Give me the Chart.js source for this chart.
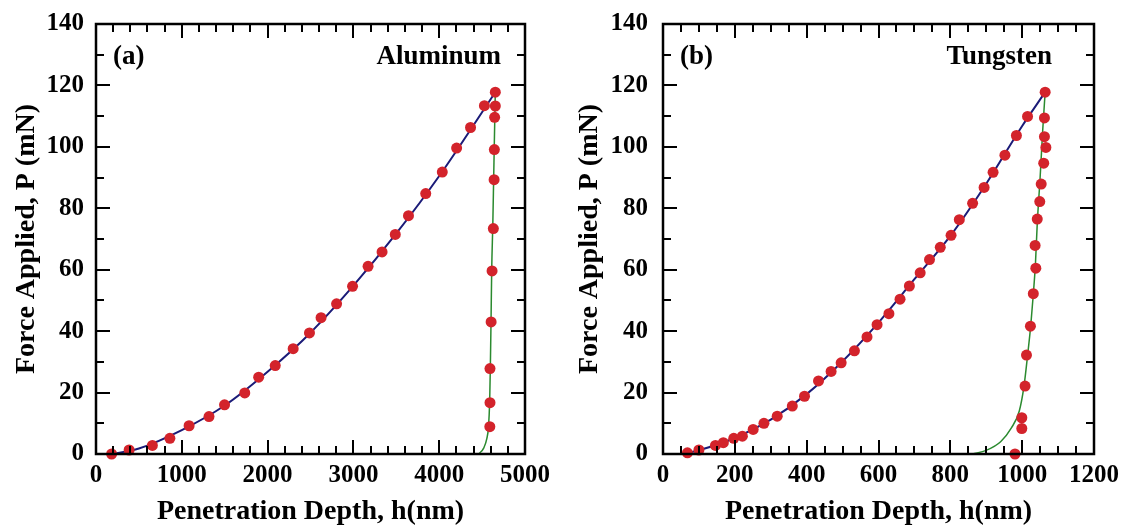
<!DOCTYPE html>
<html>
<head>
<meta charset="utf-8">
<script src="https://cdn.jsdelivr.net/npm/chart.js@4.4.1/dist/chart.umd.min.js"></script>
<style>
  body { margin: 0; background: #fff; width: 1129px; height: 531px; overflow: hidden; position: relative; }
  .pane { position: absolute; top: 0; height: 531px; }
  #paneA { left: 0; width: 560px; }
  #paneB { left: 560px; width: 569px; }
</style>
</head>
<body>
<div class="pane" id="paneA"><canvas id="chartA"></canvas></div>
<div class="pane" id="paneB"><canvas id="chartB"></canvas></div>
<script>
// Aluminum - measured points (loading / unloading)
const alLoadDepth = [182, 386, 657, 861, 1085, 1317, 1498, 1734, 1896, 2089, 2298, 2488, 2623, 2804, 2990, 3171, 3334, 3488, 3642, 3843, 4036, 4203, 4365, 4527, 4654];
const alLoadForce = [0, 1.3, 2.8, 5.1, 9.2, 12.2, 16, 19.9, 25, 28.8, 34.3, 39.4, 44.4, 48.9, 54.6, 61.1, 65.8, 71.5, 77.6, 84.8, 91.8, 99.6, 106.3, 113.4, 117.8];
const alUnloadDepth = [4654, 4646, 4643, 4640, 4631, 4616, 4605, 4592, 4592, 4590];
const alUnloadForce = [113.3, 109.6, 99.1, 89.3, 73.4, 59.6, 43, 27.8, 16.7, 8.9];
// Aluminum - fitted curves
const alFitLoadDepth = [182, 500, 1000, 1500, 2000, 2500, 3000, 3500, 4000, 4654];
const alFitLoadForce = [0, 1.8, 7.8, 15.8, 26.8, 39.5, 54.8, 71.8, 90.5, 117.8];
const alFitUnloadDepth = [4461, 4520, 4555, 4575, 4588, 4596, 4604, 4612, 4625, 4635, 4645, 4654];
const alFitUnloadForce = [0, 2, 5, 9, 17, 28, 43, 60, 75, 90, 105, 117.8];

// Tungsten - measured points
const wLoadDepth = [68, 100, 146, 168, 197, 221, 251, 281, 318, 360, 394, 433, 468, 496, 533, 568, 596, 629, 660, 686, 716, 742, 772, 802, 825, 862, 894, 919, 952, 984, 1015, 1064];
const wLoadForce = [0.4, 1.3, 2.8, 3.7, 5.1, 5.8, 8, 10, 12.3, 15.6, 18.8, 23.8, 26.9, 29.7, 33.6, 38.1, 42.1, 45.7, 50.4, 54.7, 59, 63.3, 67.3, 71.2, 76.3, 81.6, 86.8, 91.7, 97.3, 103.7, 109.9, 117.8];
const wUnloadDepth = [1062, 1062, 1066, 1060, 1053, 1049, 1042, 1036, 1038, 1031, 1023, 1012, 1008, 999, 999, 980];
const wUnloadForce = [109.4, 103.3, 99.8, 94.7, 87.9, 82.2, 76.5, 67.9, 60.5, 52.2, 41.6, 32.2, 22.1, 11.8, 8.3, 0];
// Tungsten - fitted curves
const wFitLoadDepth = [68, 100, 200, 300, 400, 500, 600, 700, 800, 900, 1000, 1064];
const wFitLoadForce = [0.3, 1.2, 5.2, 11.2, 19.5, 30.2, 42.8, 56.9, 71, 88, 106.8, 117.8];
const wFitUnloadDepth = [862, 900, 940, 970, 992, 1005, 1015, 1024, 1031, 1037, 1042, 1050, 1057, 1064];
const wFitUnloadForce = [0, 1.2, 4, 8.5, 14, 22, 32, 42, 52, 62, 75, 90, 105, 117.8];

// axes
const forceMax = 140, forceStep = 20, forceMinor = 10;
const alDepthMax = 5000, alDepthStep = 1000, alDepthMinor = 200;
const wDepthMax = 1200, wDepthStep = 200, wDepthMinor = 50;

const FONT = "'Liberation Serif', 'Times New Roman', serif";
const RED = '#d3232b', NAVY = '#1b1b78', GREEN = '#2b8a2f';

const zip = (xs, ys) => xs.map((x, i) => ({ x: x, y: ys[i] }));

// box + inward ticks on all four sides, plus the in-plot labels
function framePlugin(cfg) {
    return {
        id: 'frame',
        afterDatasetsDraw(chart) {
            const ctx = chart.ctx, a = chart.chartArea;
            const xs = chart.scales.x, ys = chart.scales.y;
            ctx.save();
            ctx.strokeStyle = '#000';
            ctx.lineWidth = 2;
            const hTicks = (step, len) => {
                for (let v = 0; v <= cfg.xMax + 1e-6; v += step) {
                    const p = Math.round(xs.getPixelForValue(v));
                    ctx.beginPath();
                    ctx.moveTo(p, a.bottom); ctx.lineTo(p, a.bottom - len);
                    ctx.moveTo(p, a.top); ctx.lineTo(p, a.top + len);
                    ctx.stroke();
                }
            };
            const vTicks = (step, len) => {
                for (let v = 0; v <= forceMax + 1e-6; v += step) {
                    const p = Math.round(ys.getPixelForValue(v));
                    ctx.beginPath();
                    ctx.moveTo(a.left, p); ctx.lineTo(a.left + len, p);
                    ctx.moveTo(a.right, p); ctx.lineTo(a.right - len, p);
                    ctx.stroke();
                }
            };
            hTicks(cfg.xMinor, 8);
            hTicks(cfg.xStep, 14);
            vTicks(forceMinor, 8);
            vTicks(forceStep, 14);
            ctx.lineWidth = 2.5;
            ctx.strokeRect(a.left, a.top, a.right - a.left, a.bottom - a.top);

            ctx.fillStyle = '#000';
            ctx.font = 'bold 27px ' + FONT;
            ctx.textBaseline = 'middle';
            ctx.textAlign = 'left';
            ctx.fillText(cfg.tag, a.left + 17, a.top + 33);
            ctx.textAlign = 'right';
            ctx.fillText(cfg.name, a.right - cfg.nameGap, a.top + 33);
            ctx.restore();
        }
    };
}

function makeChart(id, cfg) {
    return new Chart(document.getElementById(id), {
        type: 'scatter',
        data: {
            datasets: [
                { data: cfg.fitLoad, showLine: true, borderColor: NAVY, borderWidth: 2, pointRadius: 0, cubicInterpolationMode: 'monotone', order: 3, clip: false },
                { data: cfg.fitUnload, showLine: true, borderColor: GREEN, borderWidth: 1.5, pointRadius: 0, cubicInterpolationMode: 'monotone', order: 2, clip: false },
                { data: cfg.load, backgroundColor: RED, borderWidth: 0, pointRadius: 5.5, order: 1, clip: false },
                { data: cfg.unload, backgroundColor: RED, borderWidth: 0, pointRadius: 5.5, order: 0, clip: false }
            ]
        },
        options: {
            responsive: true,
            maintainAspectRatio: false,
            animation: false,
            events: [],
            layout: { padding: { top: 24, right: cfg.padRight, left: 0, bottom: 0 } },
            plugins: { legend: { display: false }, tooltip: { enabled: false } },
            scales: {
                x: {
                    type: 'linear', min: 0, max: cfg.xMax,
                    grid: { display: false, drawTicks: false },
                    border: { display: false },
                    ticks: { stepSize: cfg.xStep, padding: 7, color: '#000', callback: v => String(v), font: { family: FONT, size: 25, weight: 'bold' } },
                    title: { display: true, text: 'Penetration Depth, h(nm)', color: '#000', padding: { top: 0, bottom: 2 }, font: { family: FONT, size: 28, weight: 'bold' } },
                    afterFit: s => { s.height = 77; s.paddingLeft = 0; s.paddingRight = 0; }
                },
                y: {
                    type: 'linear', min: 0, max: forceMax,
                    grid: { display: false, drawTicks: false },
                    border: { display: false },
                    ticks: { stepSize: forceStep, padding: cfg.yPad, color: '#000', callback: v => String(v), font: { family: FONT, size: 25, weight: 'bold' } },
                    title: { display: true, text: 'Force Applied, P (mN)', color: '#000', padding: { top: cfg.yTitlePad, bottom: 0 }, font: { family: FONT, size: 28, weight: 'bold' } },
                    afterFit: s => { s.width = cfg.yWidth; s.paddingTop = 0; s.paddingBottom = 0; }
                }
            }
        },
        plugins: [framePlugin(cfg)]
    });
}

makeChart('chartA', {
    load: zip(alLoadDepth, alLoadForce),
    unload: zip(alUnloadDepth, alUnloadForce),
    fitLoad: zip(alFitLoadDepth, alFitLoadForce),
    fitUnload: zip(alFitUnloadDepth, alFitUnloadForce),
    xMax: alDepthMax, xStep: alDepthStep, xMinor: alDepthMinor,
    tag: '(a)', name: 'Aluminum', nameGap: 24,
    yWidth: 96, padRight: 35, yPad: 12, yTitlePad: 10
});

makeChart('chartB', {
    load: zip(wLoadDepth, wLoadForce),
    unload: zip(wUnloadDepth, wUnloadForce),
    fitLoad: zip(wFitLoadDepth, wFitLoadForce),
    fitUnload: zip(wFitUnloadDepth, wFitUnloadForce),
    xMax: wDepthMax, xStep: wDepthStep, xMinor: wDepthMinor,
    tag: '(b)', name: 'Tungsten', nameGap: 42,
    yWidth: 103, padRight: 35, yPad: 15, yTitlePad: 13
});
</script>
</body>
</html>
